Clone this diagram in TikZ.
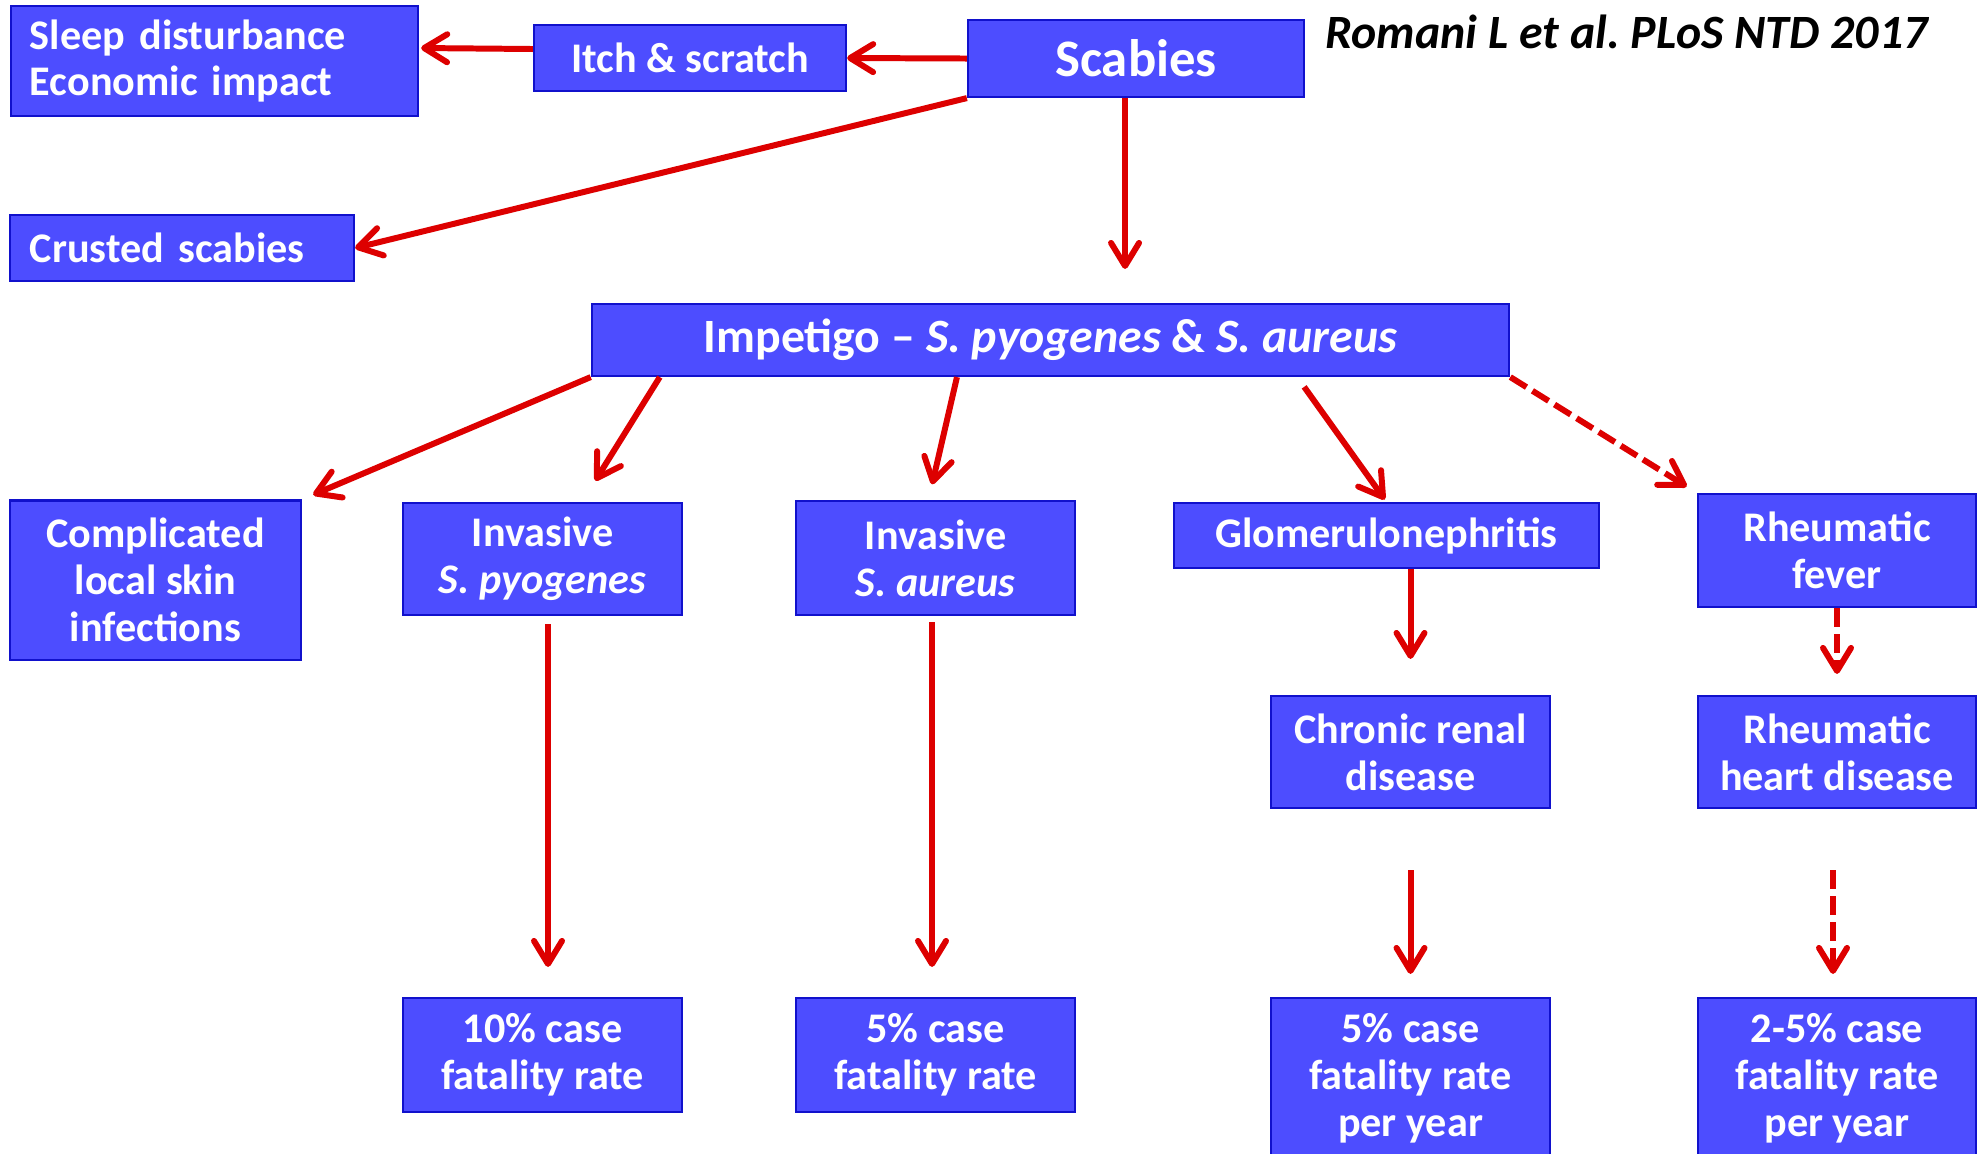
\documentclass[tikz,border=0pt]{standalone}
\usepackage{fontspec}
\setmainfont{Carlito}
\usepackage{tikz}
\usetikzlibrary{arrows.meta}
\definecolor{boxblue}{RGB}{77,77,255}
\definecolor{boxline}{RGB}{17,17,204}
\definecolor{arrowred}{RGB}{221,0,0}
\tikzset{
  every picture/.style={font=\bfseries}}
\frenchspacing

\begin{document}
\begin{tikzpicture}[x=0.01cm, y=-0.01cm,
    box/.style={draw=boxline, fill=boxblue, line width=0.6pt, text=white, align=center,
      inner sep=0pt, font=\bfseries\fontsize{12}{13.3}\selectfont},
    link/.style={-{Straight Barb[length=2.3mm,width=2.8mm,round]}, draw=arrowred, line width=1.7pt},
    maybe/.style={link, dash pattern=on 0.19cm off 0.07cm}]

    \path[use as bounding box, fill=white] (0,0) rectangle (1985,1153);
    \clip (0,0) rectangle (1985,1153);

    % top row
    \node[box, align=left, text width=3.69cm, inner xsep=0.19cm, minimum height=1.10cm] (sleep) at (214.5,61) {Sleep disturbance\\Economic impact};
    \node[box, minimum width=3.12cm, minimum height=0.66cm] (itch) at (690,58) {Itch \& scratch};
    \node[box, minimum width=3.36cm, minimum height=0.77cm, font=\bfseries\fontsize{15}{18}\selectfont] (scab) at (1136,58.5) {Scabies};
    \node[anchor=east, font=\bfseries\itshape\fontsize{13.6}{16}\selectfont] (cite) at (1940,32) {Romani L et al. PLoS NTD 2017};
    \node[box, align=left, text width=3.04cm, inner xsep=0.2cm, minimum height=0.66cm] (crust) at (182,248) {Crusted scabies};

    \node[box, minimum width=9.17cm, minimum height=0.72cm, font=\bfseries\fontsize{13.6}{16}\selectfont] (imp) at (1050.5,340) {Impetigo -- \textit{S. pyogenes} \& \textit{S. aureus}};

    % consequences
    \node[box, minimum width=2.91cm, minimum height=1.59cm] (comp) at (155.5,580) {Complicated\\local skin\\infections};
    \node[box, minimum width=2.79cm, minimum height=1.12cm] (ipyo) at (542.5,559) {Invasive\\\textit{S. pyogenes}};
    \node[box, minimum width=2.79cm, minimum height=1.14cm] (iaur) at (935.5,558) {Invasive\\\textit{S. aureus}};
    \node[box, minimum width=4.25cm, minimum height=0.65cm] (glom) at (1386.5,535.5) {Glomerulonephritis};
    \node[box, minimum width=2.78cm, minimum height=1.13cm] (rf) at (1837,550.5) {Rheumatic\\fever};
    \node[box, minimum width=2.79cm, minimum height=1.12cm] (crd) at (1410.5,752) {Chronic renal\\disease};
    \node[box, minimum width=2.78cm, minimum height=1.12cm] (rhd) at (1837,752) {Rheumatic\\heart disease};

    % fatality
    \node[box, minimum width=2.79cm, minimum height=1.14cm] (cfr10) at (542.5,1055) {10\% case\\fatality rate};
    \node[box, minimum width=2.79cm, minimum height=1.14cm] (cfr5) at (935.5,1055) {5\% case\\fatality rate};
    \node[box, minimum width=2.79cm, minimum height=1.61cm] (cfr5y) at (1410.5,1078.5) {5\% case\\fatality rate\\per year};
    \node[box, minimum width=2.78cm, minimum height=1.61cm] (cfr25) at (1837,1078.5) {2-5\% case\\fatality rate\\per year};

    \draw[link] (scab.west) -- (itch.east);
    \draw[link, shorten >=0.02cm] ([yshift=0.09cm]itch.west) -- ([yshift=0.13cm]sleep.east);
    \draw[link] (scab.south west) -- (crust.east);
    \draw[link, shorten >=0.34cm] ([xshift=0.745cm]imp.north |- scab.south) -- ([xshift=0.745cm]imp.north);

    \draw[link, shorten >=0.12cm] (imp.south west) -- (comp.north east);
    \draw[link, shorten >=0.25cm] ([xshift=-3.905cm]imp.south) -- ([xshift=0.395cm]ipyo.north);
    \draw[link, shorten >=0.16cm] ([xshift=-0.935cm]imp.south) -- ([xshift=-0.07cm]iaur.north);
    \draw[link, shorten <=0.12cm, shorten >=0.03cm] ([xshift=2.465cm]imp.south) -- (glom.north);
    \draw[maybe, shorten >=0.12cm] (imp.south east) -- (rf.north west);

    \draw[link, shorten <=0.08cm, shorten >=0.3cm] ([xshift=0.055cm]ipyo.south) -- ([xshift=0.055cm]cfr10.north);
    \draw[link, shorten <=0.06cm, shorten >=0.3cm] ([xshift=-0.035cm]iaur.south) -- ([xshift=-0.035cm]cfr5.north);
    \draw[link, shorten >=0.36cm] (glom.south -| crd.north) -- (crd.north);
    \draw[maybe, shorten >=0.21cm] (rf.south) -- (rhd.north);
    \draw[link, shorten <=0.61cm, shorten >=0.23cm] (crd.south) -- (cfr5y.north);
    \draw[maybe, shorten <=0.61cm, shorten >=0.23cm] ([xshift=-0.04cm]rhd.south) -- ([xshift=-0.04cm]cfr25.north);
\end{tikzpicture}
\end{document}
